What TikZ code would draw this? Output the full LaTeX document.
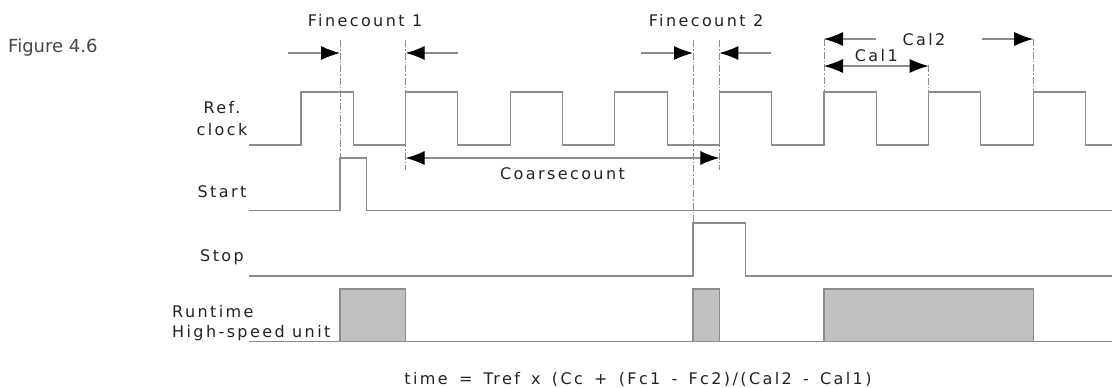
\documentclass[tikz,border=0pt]{standalone}
\usepackage{fontspec}
\setmainfont{DejaVu Sans}[LetterSpace=15]
\newfontfamily\figfont{DejaVu Sans}
\newfontfamily\formfont{DejaVu Sans}[LetterSpace=15, WordSpace=1.5]
\usetikzlibrary{arrows.meta}
\definecolor{wavegray}{HTML}{8C8C8C}
\definecolor{boxgray}{HTML}{C0C0C0}
\definecolor{textgray}{HTML}{222222}
\tikzstyle{wave line}=[
    draw = wavegray,
    line width = 1.1pt
]
\tikzstyle{marker line}=[
    draw = wavegray,
    line width = 0.9pt,
    dash pattern = on 7pt off 2pt on 1.5pt off 2pt
]
\tikzstyle{span arrow}=[
    draw = wavegray,
    line width = 1.1pt,
    -{Latex[black, length = 19pt, width = 14pt]}
]
\tikzstyle{both span}=[
    span arrow,
    {Latex[black, length = 19pt, width = 14pt]}-{Latex[black, length = 19pt, width = 14pt]}
]
\tikzstyle{run box}=[
    draw = wavegray,
    fill = boxgray,
    line width = 1.1pt
]

\begin{document}
\begin{tikzpicture}[x=1pt, y=-1pt, font=\fontsize{16}{19}\selectfont, text=textgray,
    sig/.style = {inner sep = 0pt}]
    \useasboundingbox (0,0) rectangle (1112,388);

        % signal names
        \node[anchor=west, inner sep=0pt, text=black!72, font=\figfont\fontsize{18}{20}\selectfont] (fig) at (8,48) {Figure 4.6};
        \node[sig] (ref) at (222,108) {Ref.};
        \node[sig] (clk) at (222,130) {clock};
        \node[sig] (start) at (222,192) {Start};
        \node[sig] (stop) at (222,257) {Stop};
        \node[anchor=west, inner sep=0pt] (run) at (172,312) {Runtime};
        \node[anchor=west, inner sep=0pt] (hsu) at (172,333) {High-speed unit};

        % marker lines
        \coordinate (fc1a) at (340,40);
        \coordinate (fc1b) at (405.6,40);
        \coordinate (fc2a) at (693,40);
        \coordinate (fc2b) at (719.4,40);
        \coordinate (cal0) at (824,39);
        \coordinate (cal1) at (928.6,65);
        \coordinate (cal2) at (1033.2,39);
        \draw[marker line] (fc1a) -- (340,158);
        \draw[marker line] (fc1b) -- (405.6,170);
        \draw[marker line] (fc2a) -- (693,223);
        \draw[marker line] (fc2b) -- (719.4,170);
        \draw[marker line] (cal0) -- (824,92);
        \draw[marker line] (cal1) -- (928.6,92);
        \draw[marker line] (cal2) -- (1033.2,92);

        % waveforms
        \draw[wave line] (249,145) foreach \k in {0,...,7} {
            -- ({301+104.6*\k},145) -- ({301+104.6*\k},92)
            -- ({353.3+104.6*\k},92) -- ({353.3+104.6*\k},145)} -- (1112,145);
        \draw[wave line] (249,210.7) -- (340,210.7) -- (340,158) -- (366.7,158) -- (366.7,210.7) -- (1112,210.7);
        \draw[wave line] (249,276) -- (693,276) -- (693,223) -- (745.7,223) -- (745.7,276) -- (1112,276);
        \draw[run box] (340,341.7) rectangle (405.6,289);
        \draw[run box] (693,341.7) rectangle (719.4,289);
        \draw[run box] (824,341.7) rectangle (1033.2,289);
        \draw[wave line] (249,341.7) -- (1112,341.7);

        % measurements
        \node (fine1) at (365,21) {Finecount 1};
        \node (fine2) at (706,21) {Finecount 2};
        \coordinate (fc1in) at (288,53);
        \coordinate (fc1out) at (458,53);
        \coordinate (fc2in) at (641,53);
        \coordinate (fc2out) at (771,53);
        \draw[span arrow] (fc1in) -- (fc1a |- fc1in);
        \draw[span arrow] (fc1out) -- (fc1b |- fc1out);
        \draw[span arrow] (fc2in) -- (fc2a |- fc2in);
        \draw[span arrow] (fc2out) -- (fc2b |- fc2out);

        \coordinate (cc0) at (405.6,158);
        \coordinate (cc1) at (719.4,158);
        \draw[both span] (cc0) -- (cc1) node [midway, below=6pt] (coarse) {Coarsecount};

        \coordinate (c1a) at (824,66);
        \coordinate (c1b) at (928.6,66);
        \draw[both span] (c1a) -- (c1b) node [midway, above=0pt] (lcal1) {Cal1};
        \coordinate (c2in) at (982,39);
        \coordinate (c2out) at (876,39);
        \draw[span arrow] (c2out) -- (cal0);
        \draw[span arrow] (c2in) -- (cal2);
        \node (lcal2) at (924,40) {Cal2};

        \node[font=\formfont\fontsize{16}{19}\selectfont] (formula) at (638,379) {time = Tref x (Cc + (Fc1 - Fc2)/(Cal2 - Cal1)};

    \end{tikzpicture}
\end{document}
